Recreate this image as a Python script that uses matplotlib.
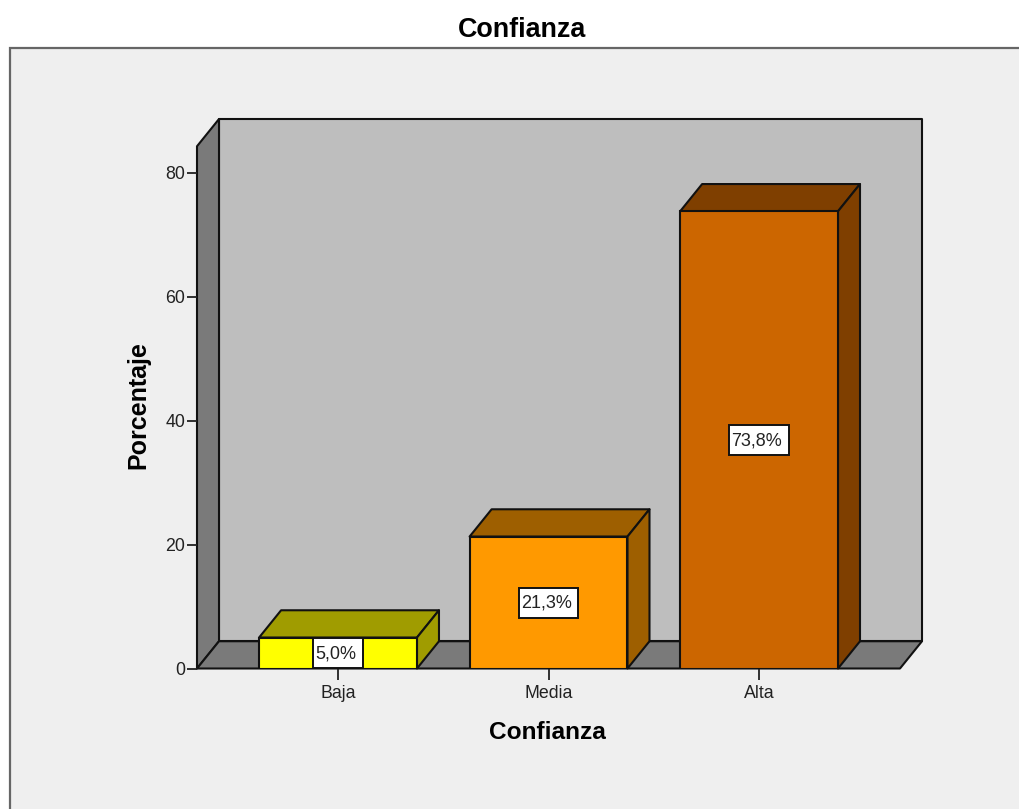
import numpy as np
import matplotlib.pyplot as plt
from matplotlib.patches import Polygon, Rectangle
from matplotlib.transforms import IdentityTransform

plt.rcParams['font.family'] = ['Liberation Sans', 'DejaVu Sans']

categorias = ['Baja', 'Media', 'Alta']
porcentajes = [5.0, 21.3, 73.8]
etiquetas = ['5,0%', '21,3%', '73,8%']
yticks = [0, 20, 40, 60, 80]

cor_frente = ['#FFFF00', '#FF9900', '#CC6600']
cor_lados = ['#A09C00', '#9E5F00', '#7F3F00']

W, H = 1019, 809
largura = 0.75
# Profundidade do efeito 3D, em unidades dos eixos
dx = 0.1045
dy = 4.4
ymax_frente = 84.3
xmin, xmax = -0.67, 2.774

fig = plt.figure(figsize=(W / 100, H / 100), dpi=100, facecolor='white')

# Painel cinza claro atras do grafico
fig.patches.append(Rectangle((9.5 / W, -0.01), 1.02, (809 - 47.5) / H + 0.01, transform=fig.transFigure,
                             facecolor='#EFEFEF', edgecolor='#666666', linewidth=1.6, zorder=-5))

ax = fig.add_axes([197 / W, (H - 668.5) / H, 725 / W, 549.5 / H])
ax.patch.set_visible(False)
ax.set_xlim(xmin, xmax)
ax.set_ylim(0, ymax_frente + dy)
for lado in ax.spines.values():
    lado.set_visible(False)

linha = dict(edgecolor='#111111', linewidth=1.5, joinstyle='round', clip_on=False)

# Parede do fundo, parede esquerda e piso
xf = xmax - dx
ax.add_patch(Polygon([(xmin + dx, dy), (xmax, dy), (xmax, ymax_frente + dy), (xmin + dx, ymax_frente + dy)],
                     facecolor='#BEBEBE', zorder=1, **linha))
ax.add_patch(Polygon([(xmin, 0), (xmin + dx, dy), (xmin + dx, ymax_frente + dy), (xmin, ymax_frente)],
                     facecolor='#7A7A7A', zorder=1, **linha))
ax.add_patch(Polygon([(xmin, 0), (xf, 0), (xmax, dy), (xmin + dx, dy)],
                     facecolor='#7A7A7A', zorder=1, **linha))

# Barras com topo e lateral
x = np.arange(len(categorias))
for i in range(len(categorias)):
    esq = x[i] - largura / 2
    dir = x[i] + largura / 2
    v = porcentajes[i]
    ax.add_patch(Polygon([(esq, v), (dir, v), (dir + dx, v + dy), (esq + dx, v + dy)],
                         facecolor=cor_lados[i], zorder=2, **linha))
    ax.add_patch(Polygon([(dir, 0), (dir + dx, dy), (dir + dx, v + dy), (dir, v)],
                         facecolor=cor_lados[i], zorder=2, **linha))
ax.bar(x, porcentajes, width=largura, color=cor_frente, edgecolor='#111111', linewidth=1.5, zorder=3)

# Etiquetas de valor: a caixa e mais alta que o texto, por isso vai separada
renderer = fig.canvas.get_renderer()
for i in range(len(categorias)):
    t = ax.annotate(etiquetas[i], (x[i], porcentajes[i] / 2), xytext=(-1.5, -0.5), textcoords='offset points',
                    ha='center', va='center', fontsize=13, color='#222222', zorder=6)
    larg_caixa = t.get_window_extent(renderer).width + 9
    cx, cy = ax.transData.transform((x[i], porcentajes[i] / 2))
    ax.add_patch(Rectangle((cx - larg_caixa / 2, cy - 15), larg_caixa, 30, transform=IdentityTransform(),
                           facecolor='white', edgecolor='#111111', linewidth=1.4, zorder=5))

ax.set_xticks(x)
ax.set_xticklabels(categorias)
ax.set_yticks(yticks)
ax.tick_params(axis='y', length=7.5, width=1.3, color='#222222', labelsize=12.8, labelcolor='#222222', pad=1)
ax.tick_params(axis='x', length=8, width=1.3, color='#222222', labelsize=12.8, labelcolor='#222222', pad=4)

ax.set_xlabel('Confianza', fontsize=17.6, fontweight='bold')
ax.set_ylabel('Porcentaje', fontsize=18, fontweight='bold')
ax.yaxis.set_label_coords(-0.065, 0.48)
ax.xaxis.set_label_coords(0.484, -0.0955)
ax.set_title('Confianza', fontsize=19.4, fontweight='bold', pad=59, x=0.448)

plt.savefig('out.png', dpi=100, facecolor='white')
